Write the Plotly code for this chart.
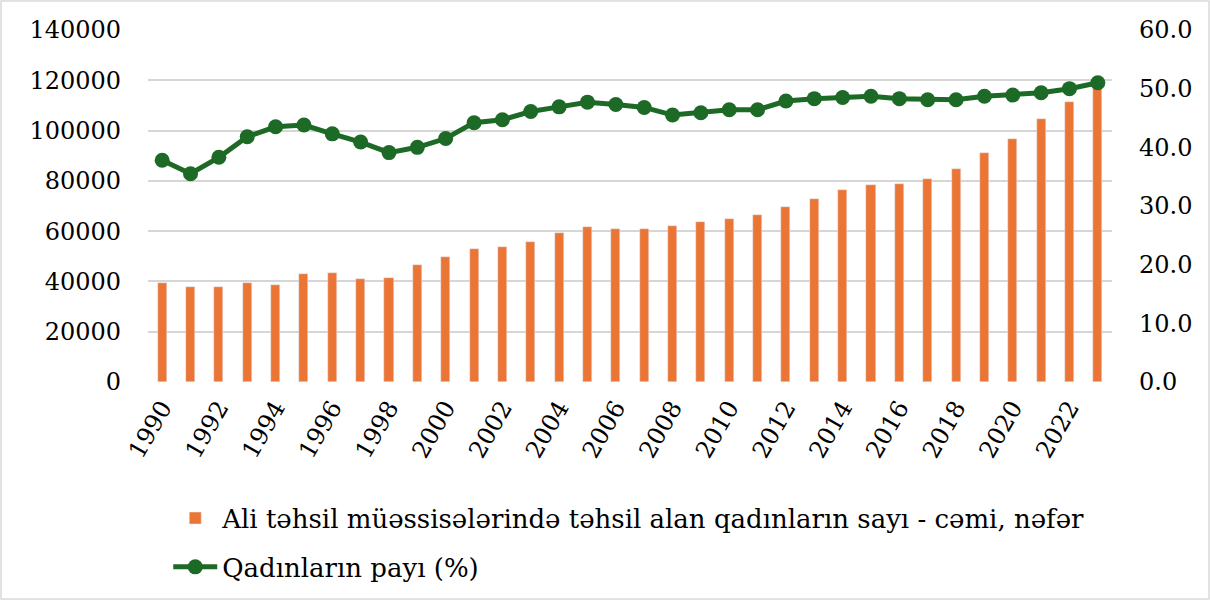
import plotly.graph_objects as go

years = list(range(1990, 2024))
women_count = [39500, 37900, 37900, 39200, 38400, 43000, 43200, 40800, 41400, 46400,
               49600, 53000, 53600, 55700, 59400, 61800, 61000, 60900, 62100, 63600,
               64700, 66300, 69500, 72900, 76400, 78400, 78800, 80600, 84900, 91200,
               96800, 104500, 111400, 118500]
women_share = [37.8, 35.5, 38.3, 41.8, 43.5, 43.8, 42.3, 40.9, 39.1, 40.0,
               41.5, 44.2, 44.7, 46.1, 46.9, 47.7, 47.3, 46.8, 45.5, 45.9,
               46.4, 46.4, 47.9, 48.3, 48.5, 48.7, 48.3, 48.1, 48.1, 48.7,
               48.9, 49.3, 50.0, 51.0]
x_tick_labels = [str(y) for y in range(1990, 2023, 2)]
left_ticks = [0, 20000, 40000, 60000, 80000, 100000, 120000, 140000]
right_ticks = [0, 10, 20, 30, 40, 50, 60]

bar_name = "Ali təhsil müəssisələrində təhsil alan qadınların sayı - cəmi, nəfər"
line_name = "Qadınların payı (%)"

FONT = "DejaVu Serif"
fig = go.Figure()
fig.add_trace(go.Bar(x=years, y=women_count, name=bar_name, marker_color="#EA7535",
                     width=0.32, yaxis="y", legendgroup="a"))
fig.add_trace(go.Scatter(x=years, y=women_share, name=line_name, mode="lines+markers",
                         line=dict(color="#1C6A25", width=5),
                         marker=dict(size=15, color="#1C6A25"), yaxis="y2", legendgroup="b"))

L, R, T, B = 148, 1112, 30, 382
W, H = 1210, 600
fig.update_layout(
    width=W, height=H,
    margin=dict(l=L, r=W - R, t=T, b=H - B, autoexpand=False),
    paper_bgcolor="white", plot_bgcolor="white",
    font=dict(family=FONT, size=24, color="black"),
    bargap=0,
    xaxis=dict(range=[1989.5, 2023.5], tickvals=[int(v) for v in x_tick_labels],
               ticktext=x_tick_labels, tickangle=-60, showgrid=False, zeroline=False,
               tickfont=dict(family=FONT, size=24), ticks="", showline=False, automargin=False,
               ticklabelstandoff=6),
    yaxis=dict(range=[0, 140000], tickvals=left_ticks, ticktext=[str(v) for v in left_ticks],
               showgrid=True, gridcolor="#D6D6D6",
               gridwidth=2, zeroline=False, ticklabelstandoff=26, automargin=False,
               tickfont=dict(family=FONT, size=24), showline=False),
    yaxis2=dict(range=[0, 60], tickvals=right_ticks, tickformat=".1f", overlaying="y",
                side="right", showgrid=False, zeroline=False, ticklabelstandoff=26,
                automargin=False, tickfont=dict(family=FONT, size=24)),
    legend=dict(x=0.021, y=-0.32, xanchor="left", yanchor="top", orientation="v",
                traceorder="grouped", tracegroupgap=12, font=dict(family=FONT, size=26),
                bgcolor="rgba(0,0,0,0)", itemwidth=44),
    showlegend=True,
)
pw, ph = R - L, B - T
fig.add_shape(type="rect", xref="paper", yref="paper",
              x0=(1 - L) / pw, x1=(W - 1 - L) / pw, y0=(B - (H - 1)) / ph, y1=(B - 1) / ph,
              line=dict(color="#D9D9D9", width=1.5), fillcolor="rgba(0,0,0,0)", layer="above")
fig.write_html("out.html", config={"displayModeBar": False},
               post_script="document.body.style.margin='0';document.body.style.padding='0';")
